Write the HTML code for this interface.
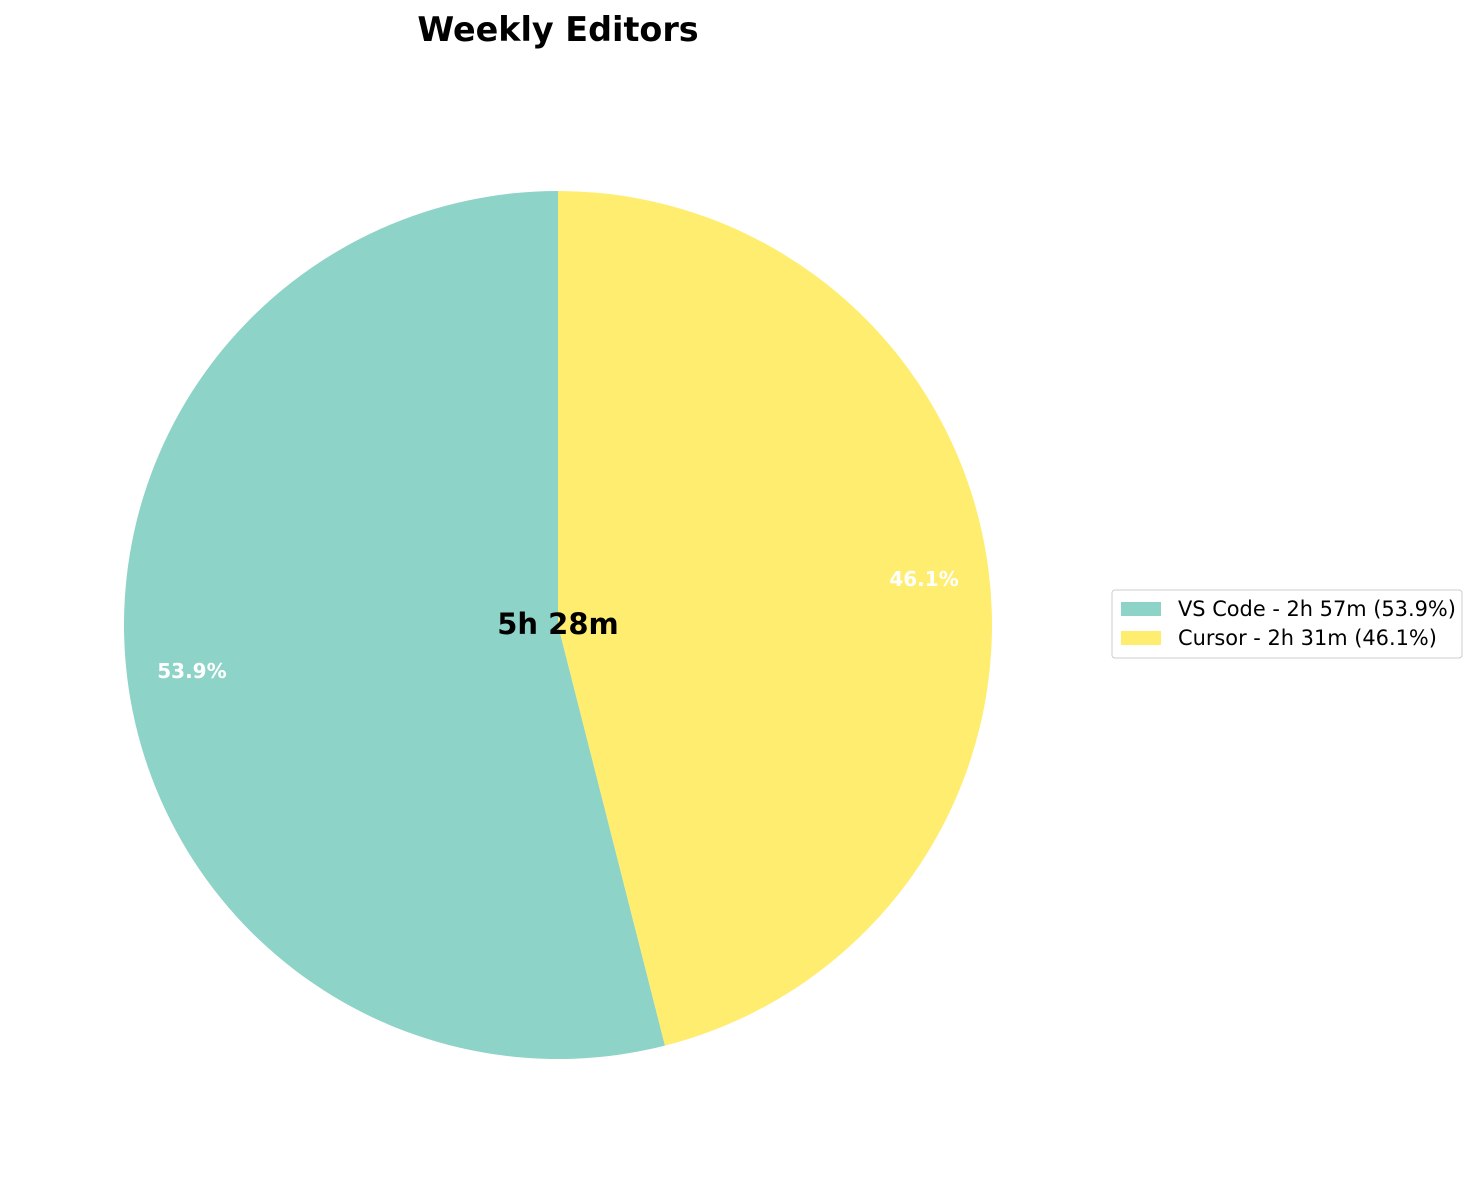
<!DOCTYPE html>
<html><head><meta charset="utf-8">
<style>
body{margin:0;background:#fff;font-family:"DejaVu Sans","Liberation Sans",sans-serif;}
svg{display:block}
</style></head>
<body>
<svg id="chart" width="1478" height="1184" viewBox="0 0 1478 1184">
<text x="558" y="41" text-anchor="middle" font-size="33.4" font-weight="bold" fill="#000">Weekly Editors</text>
<g id="slices"></g>
<text x="558" y="634" text-anchor="middle" font-size="29" font-weight="bold" fill="#000">5h 28m</text>
<g>
<rect x="1112" y="590" width="350" height="68" rx="3" fill="#fff" stroke="#ccc"/>
<g id="legend-items"></g>
</g>
</svg>
<script>
const categories = ["VS Code", "Cursor"];
const minutes = [177, 151];
const durations = ["2h 57m", "2h 31m"];
const pctLabels = ["53.9%", "46.1%"];
const colors = ["#8dd3c7", "#ffed6f"];

const cx = 558, cy = 625, r = 434;
const total = minutes.reduce((a, b) => a + b, 0);
const ns = "http://www.w3.org/2000/svg";
const g = document.getElementById("slices");
let a0 = 90;
function pt(angDeg, rad) {
  const a = angDeg * Math.PI / 180;
  return [cx + rad * Math.cos(a), cy - rad * Math.sin(a)];
}
minutes.forEach((v, i) => {
  const sweep = v / total * 360;
  const a1 = a0 + sweep;
  const [x0, y0] = pt(a0, r), [x1, y1] = pt(a1, r);
  const large = sweep > 180 ? 1 : 0;
  const p = document.createElementNS(ns, "path");
  p.setAttribute("d", `M${cx},${cy} L${x0},${y0} A${r},${r} 0 ${large} 0 ${x1},${y1} Z`);
  p.setAttribute("fill", colors[i]);
  
  
  g.appendChild(p);
  const [lx, ly] = pt((a0 + a1) / 2, r * 0.85);
  const t = document.createElementNS(ns, "text");
  t.setAttribute("x", lx); t.setAttribute("y", ly + 7);
  t.setAttribute("text-anchor", "middle");
  t.setAttribute("font-size", "20"); t.setAttribute("font-weight", "bold");
  t.setAttribute("fill", "#fff");
  t.textContent = pctLabels[i];
  
  
  g.appendChild(t);
  a0 = a1;
});
const lg = document.getElementById("legend-items");
categories.forEach((c, i) => {
  const y = 602 + i * 29;
  const rc = document.createElementNS(ns, "rect");
  rc.setAttribute("x", 1121); rc.setAttribute("y", y);
  rc.setAttribute("width", 40); rc.setAttribute("height", 14);
  rc.setAttribute("fill", colors[i]);
  
  
  lg.appendChild(rc);
  const t = document.createElementNS(ns, "text");
  t.setAttribute("x", 1178); t.setAttribute("y", y + 14);
  t.setAttribute("font-size", "20.9"); t.setAttribute("fill", "#000");
  t.textContent = `${c} - ${durations[i]} (${pctLabels[i]})`;
  
  
  lg.appendChild(t);
});
</script>
</body></html>
